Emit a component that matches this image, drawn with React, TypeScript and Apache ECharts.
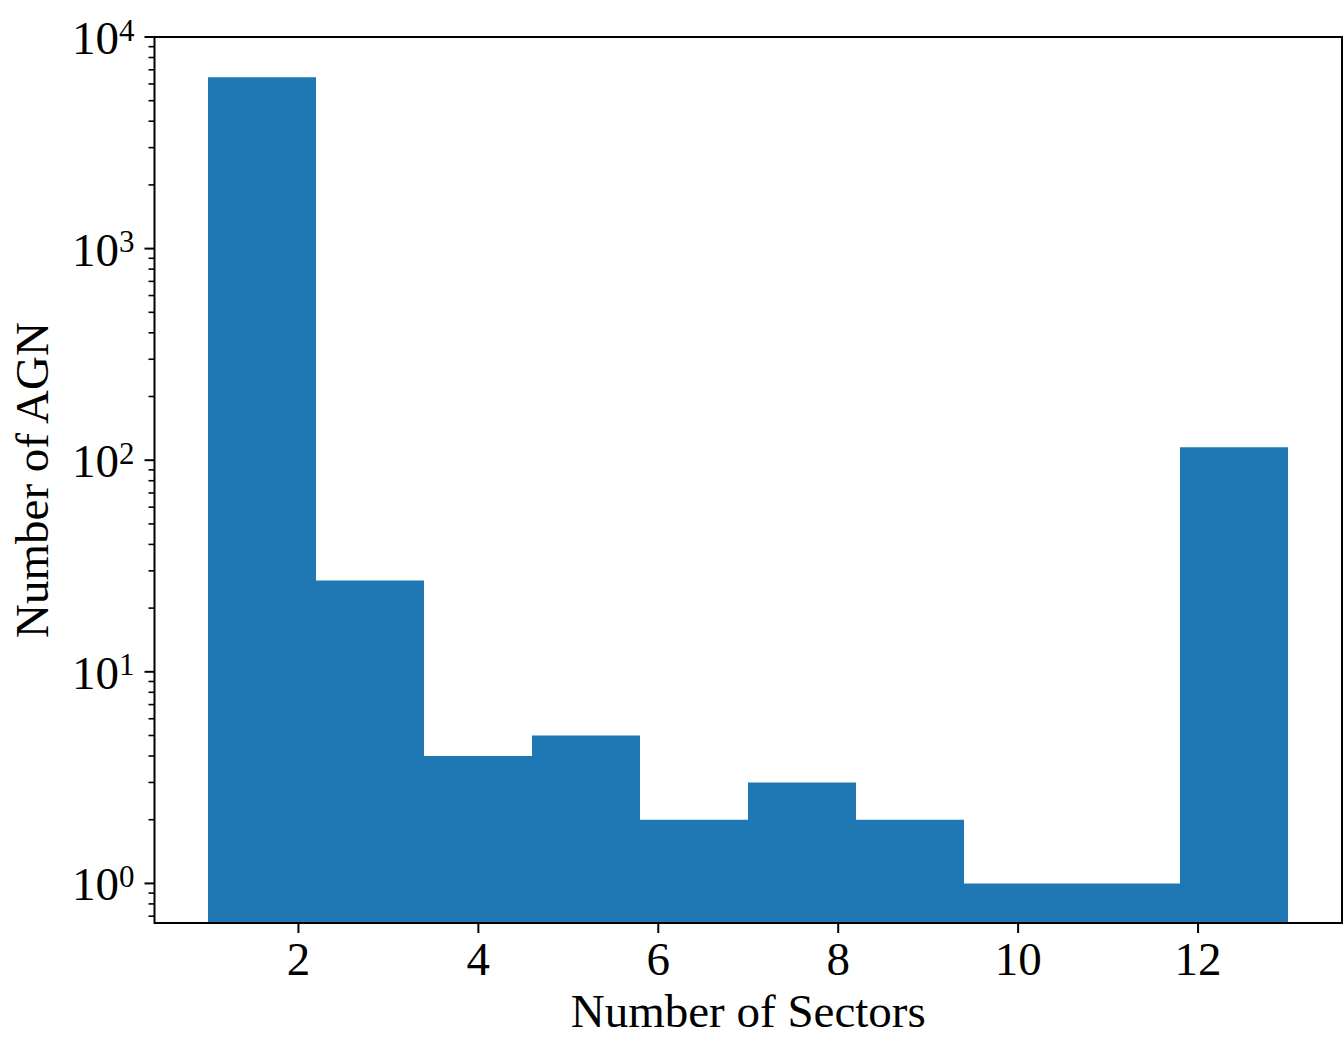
import React, { useEffect, useRef } from "react";
import * as echarts from "echarts";

// Histogram data: bin edges and counts per bin
const binEdges = [1, 2.2, 3.4, 4.6, 5.8, 7.0, 8.2, 9.4, 10.6, 11.8, 13];
const counts = [6450, 27, 4, 5, 2, 3, 2, 1, 1, 115];

// Tick definitions
const xTicks = [2, 4, 6, 8, 10, 12];
const xTickLabels = ["2", "4", "6", "8", "10", "12"];
const yMajorTicks = [1, 10, 100, 1000, 10000];
const yTickExponents = ["0", "1", "2", "3", "4"];
const yMinorDecades = [0.1, 1, 10, 100, 1000];
const yMinorMultipliers = [2, 3, 4, 5, 6, 7, 8, 9];

const xTitle = "Number of Sectors";
const yTitle = "Number of AGN";

const X_MIN = 0.4;
const X_MAX = 13.6;
const Y_MIN = 0.65;
const Y_MAX = 10000;

const FONT = "'Liberation Serif', 'Times New Roman', 'DejaVu Serif', serif";
const BAR_COLOR = "#1f77b4";

export default function App() {
  const ref = useRef<HTMLDivElement>(null);

  useEffect(() => {
    document.body.style.margin = "0";
    if (!ref.current) return;
    const chart = echarts.init(ref.current, null, { renderer: "svg" });

    const barData = counts.map((c, i) => [binEdges[i], binEdges[i + 1], c]);
    const yMinor: number[][] = [];
    yMinorDecades.forEach((d) => {
      yMinorMultipliers.forEach((m) => {
        const v = +(m * d).toPrecision(6);
        if (v >= Y_MIN && v <= Y_MAX) yMinor.push([X_MIN, v]);
      });
    });

    const option: any = {
      animation: false,
      backgroundColor: "#ffffff",
      grid: { left: 152, top: 37, width: 1190, height: 886, show: false },
      xAxis: {
        type: "value",
        min: X_MIN,
        max: X_MAX,
        axisLine: { show: false },
        axisTick: { show: false },
        axisLabel: { show: false },
        splitLine: { show: false },
        name: xTitle,
        nameLocation: "middle",
        nameGap: 88,
        nameTextStyle: {
          fontFamily: FONT,
          fontSize: 47,
          color: "#000",
          verticalAlign: "middle",
        },
      },
      yAxis: {
        type: "log",
        logBase: 10,
        min: Y_MIN,
        max: Y_MAX,
        axisLine: { show: false },
        axisTick: { show: false },
        axisLabel: { show: false },
        splitLine: { show: false },
        minorTick: { show: false },
        name: yTitle,
        nameLocation: "middle",
        nameGap: 123,
        nameTextStyle: {
          fontFamily: FONT,
          fontSize: 47,
          color: "#000",
          verticalAlign: "middle",
        },
      },
      series: [
        {
          type: "custom",
          name: "bars",
          z: 2,
          clip: true,
          silent: true,
          encode: { x: [0, 1], y: 2 },
          data: barData,
          renderItem: (params: any, api: any) => {
            const x0 = api.value(0);
            const x1 = api.value(1);
            const c = api.value(2);
            const p0 = api.coord([x0, c]);
            const p1 = api.coord([x1, Y_MIN]);
            const left = Math.round(p0[0]);
            const right = Math.round(p1[0]);
            return {
              type: "rect",
              shape: {
                x: left,
                y: p0[1],
                width: right - left,
                height: p1[1] - p0[1],
              },
              style: { fill: BAR_COLOR, stroke: null },
            };
          },
        },
        {
          type: "custom",
          name: "frame",
          z: 6,
          clip: false,
          silent: true,
          encode: { x: 0, y: 1 },
          data: [[X_MIN, Y_MIN]],
          renderItem: (params: any, api: any) => {
            const tl = api.coord([X_MIN, Y_MAX]);
            const br = api.coord([X_MAX, Y_MIN]);
            return {
              type: "rect",
              shape: { x: tl[0], y: tl[1], width: br[0] - tl[0], height: br[1] - tl[1] },
              style: { fill: "none", stroke: "#000", lineWidth: 2 },
            };
          },
        },
        {
          type: "custom",
          name: "xticks",
          z: 6,
          clip: false,
          silent: true,
          encode: { x: 0, y: 1 },
          data: xTicks.map((v) => [v, Y_MIN]),
          renderItem: (params: any, api: any) => {
            const p = api.coord([api.value(0), Y_MIN]);
            return {
              type: "group",
              children: [
                {
                  type: "line",
                  shape: { x1: p[0], y1: p[1], x2: p[0], y2: p[1] + 10 },
                  style: { stroke: "#000", lineWidth: 2 },
                },
                {
                  type: "text",
                  x: p[0],
                  y: p[1] + 36,
                  style: {
                    text: xTickLabels[params.dataIndex],
                    fill: "#000",
                    fontFamily: FONT,
                    fontSize: 47,
                    align: "center",
                    verticalAlign: "middle",
                  },
                },
              ],
            };
          },
        },
        {
          type: "custom",
          name: "yticks",
          z: 6,
          clip: false,
          silent: true,
          encode: { x: 0, y: 1 },
          data: yMajorTicks.map((v) => [X_MIN, v]),
          renderItem: (params: any, api: any) => {
            const p = api.coord([X_MIN, api.value(1)]);
            return {
              type: "group",
              children: [
                {
                  type: "line",
                  shape: { x1: p[0] - 10, y1: p[1], x2: p[0], y2: p[1] },
                  style: { stroke: "#000", lineWidth: 2 },
                },
                {
                  type: "text",
                  x: p[0] - 20,
                  y: p[1] + 1,
                  style: {
                    text: "{m|10}{s|" + yTickExponents[params.dataIndex] + "}",
                    fill: "#000",
                    fontFamily: FONT,
                    align: "right",
                    verticalAlign: "middle",
                    rich: {
                      m: { fontFamily: FONT, fontSize: 47, lineHeight: 47, fill: "#000" },
                      s: {
                        fontFamily: FONT,
                        fontSize: 31,
                        lineHeight: 31,
                        verticalAlign: "top",
                        fill: "#000",
                      },
                    },
                  },
                },
              ],
            };
          },
        },
        {
          type: "custom",
          name: "yminor",
          z: 6,
          clip: false,
          silent: true,
          encode: { x: 0, y: 1 },
          data: yMinor,
          renderItem: (params: any, api: any) => {
            const p = api.coord([X_MIN, api.value(1)]);
            return {
              type: "line",
              shape: { x1: p[0] - 6, y1: p[1], x2: p[0], y2: p[1] },
              style: { stroke: "#000", lineWidth: 1.6 },
            };
          },
        },
      ],
    };

    chart.setOption(option);
    return () => chart.dispose();
  }, []);

  return <div ref={ref} style={{ width: 1344, height: 1044 }} />;
}
